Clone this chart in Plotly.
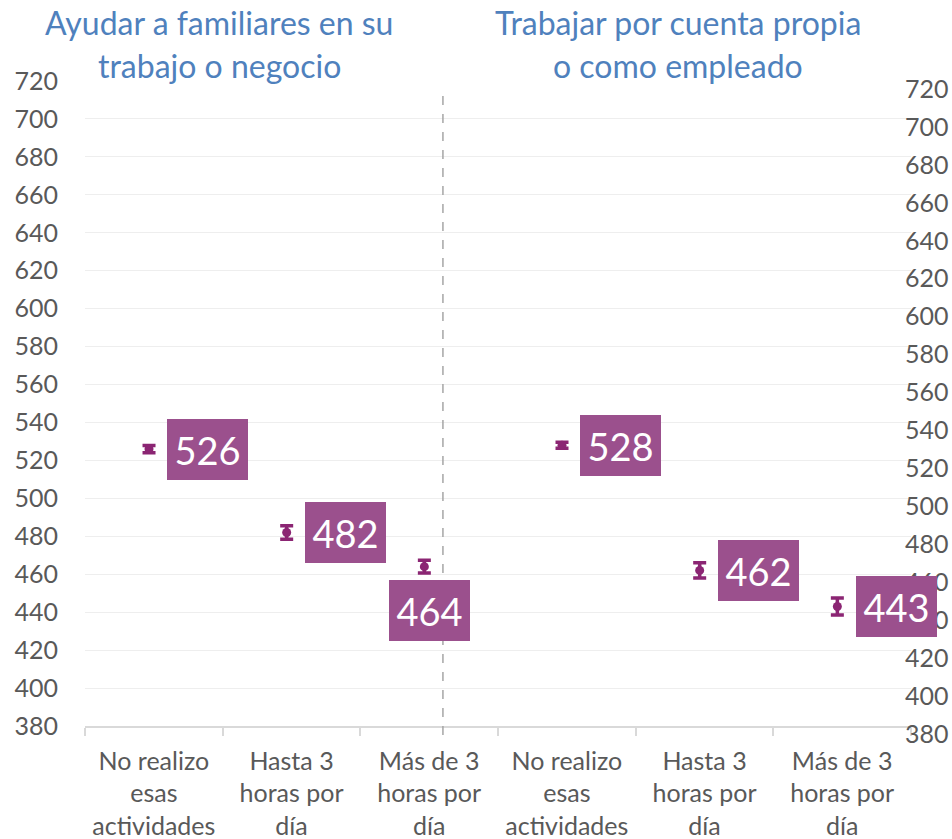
import plotly.graph_objects as go

# ---- data ----
panel_titles = [["Ayudar a familiares en su", "trabajo o negocio"],
                ["Trabajar por cuenta propia", "o como empleado"]]
categories = ["No realizo<br>esas<br>actividades", "Hasta 3<br>horas por<br>día", "Más de 3<br>horas por<br>día",
              "No realizo<br>esas<br>actividades", "Hasta 3<br>horas por<br>día", "Más de 3<br>horas por<br>día"]
values = [526, 482, 464, 528, 462, 443]
errors = [1.9, 3.6, 3.4, 1.6, 4.0, 4.5]
y_ticks = list(range(380, 721, 20))

# ---- styles ----
FONT = "Lato"
MARK = "#8B2573"
BOX = "#9B508D"
TXT = "#595959"
TITLE = "#4F81BD"
label_dx = [54, 54, 0, 54, 54, 54]
label_dy = [0, 0, -44, 0, 0, 0]
marker_offset = -0.035

W, H = 952, 839
L, R, T, B = 85, 41, 81, 113
pw, ph = W - L - R, H - T - B

xs = list(range(len(values)))

fig = go.Figure()
fig.add_trace(go.Scatter(
    x=[x + marker_offset for x in xs], y=values, mode="markers",
    marker=dict(color=MARK, size=9),
    error_y=dict(type="data", array=errors, visible=True, color=MARK, thickness=3.5, width=6.5),
    showlegend=False, hoverinfo="skip"))
# invisible trace for right axis
fig.add_trace(go.Scatter(x=[xs[0]], y=[values[0]], yaxis="y2", mode="markers",
                         marker=dict(opacity=0), showlegend=False, hoverinfo="skip"))

for i, (x, v) in enumerate(zip(xs, values)):
    fig.add_annotation(x=x, y=v, text=str(v), showarrow=False,
                       xshift=label_dx[i], yshift=label_dy[i],
                       font=dict(family=FONT, size=38, color="white"),
                       bgcolor=BOX, width=81, height=61, borderpad=0, borderwidth=0,
                       xanchor="center", yanchor="middle")

# panel titles (pixel centres converted to paper coords)
centers = [219, 678]
for p, lines in enumerate(panel_titles):
    for j, line in enumerate(lines):
        py = 22 + 44 * j
        fig.add_annotation(x=(centers[p] - L) / pw, y=(H - B - py) / ph,
                           xref="paper", yref="paper", text=line,
                           showarrow=False, font=dict(family=FONT, size=32, color=TITLE),
                           xanchor="center", yanchor="middle")

# dashed separator
fig.add_shape(type="line", xref="x", yref="paper", x0=2.1, x1=2.1,
              y0=(H - B - 735) / ph, y1=(H - B - 90) / ph,
              line=dict(color="#A6A6A6", width=1.5, dash="dash"))

fig.update_layout(
    width=W, height=H, margin=dict(l=L, r=R, t=T, b=B, autoexpand=False),
    paper_bgcolor="white", plot_bgcolor="white",
    font=dict(family=FONT, color=TXT),
    xaxis=dict(range=[-0.5, 5.5], tickvals=xs, ticktext=categories, ticks="",
               tickfont=dict(size=25, color=TXT), showgrid=False, zeroline=False,
               automargin=False, ticklabelstandoff=12,
               showline=True, linecolor="#D9D9D9", linewidth=1.5,
               minor=dict(tickvals=[i - 0.5 for i in range(len(xs) + 1)], ticks="outside",
                          ticklen=8, tickcolor="#D9D9D9", tickwidth=1.5, showgrid=False)),
    yaxis=dict(range=[380, 720], tickvals=y_ticks, ticks="", showgrid=True,
               gridcolor="#EEEEEE", gridwidth=1.2, zeroline=False, automargin=False,
               ticklabelstandoff=26, tickfont=dict(size=25, color=TXT)),
    yaxis2=dict(range=[380, 720], tickvals=y_ticks, ticks="", overlaying="y", side="right",
                anchor="free", position=0.9915, showgrid=False, zeroline=False,
                automargin=False, ticklabelshift=8, tickfont=dict(size=25, color=TXT)),
)

fig.write_html("out.html", config={"displayModeBar": False},
               post_script="document.body.style.margin='0';document.body.style.overflow='hidden';")
